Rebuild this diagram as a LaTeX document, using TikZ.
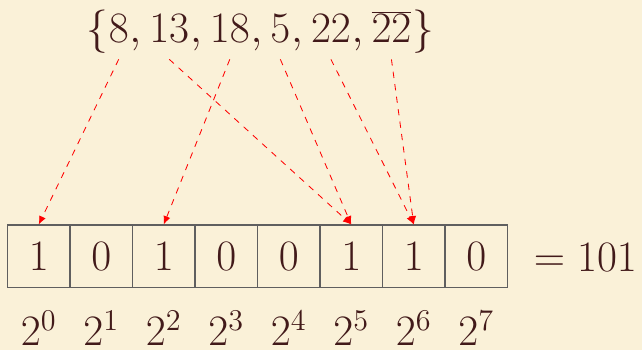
\documentclass[tikz,border=0pt]{standalone}
\usetikzlibrary{arrows.meta}
\definecolor{bgc}{RGB}{250,241,216}
\definecolor{inkc}{RGB}{66,26,26}
\definecolor{cellline}{RGB}{95,95,95}
\begin{document}
\begin{tikzpicture}[x=0.4779pt,y=-0.4779pt,
  every node/.style={text=inkc, font=\huge},
  setitem/.style={inner xsep=0pt, inner ysep=7.6pt, text depth=0pt, anchor=base west},
  cell/.style={draw=cellline, line width=0.5pt, minimum size=29.87pt, inner sep=0pt},
  pointer/.style={red, dashed, line width=0.4pt, -{Latex[length=4pt,width=3.4pt]}}]
\useasboundingbox (0,0) rectangle (642,350);
\fill[bgc] (0,0) rectangle (642,350);
% cells
\foreach \v [count=\i from 0] in {1,0,1,0,0,1,1,0}
  \node[cell] (c\i) at (38.75+62.5*\i, 256.25) {$\v$};
% set
\node[setitem] (lb) at (85.8,43) {$\{$};
\node[setitem] (n8) at (lb.base east) {$8$};
\node[setitem] (k1) at (n8.base east) {$,\,$};
\node[setitem] (n13) at (k1.base east) {$13$};
\node[setitem] (k2) at (n13.base east) {$,\,$};
\node[setitem] (n18) at (k2.base east) {$18$};
\node[setitem] (k3) at (n18.base east) {$,\,$};
\node[setitem] (n5) at (k3.base east) {$5$};
\node[setitem] (k4) at (n5.base east) {$,\,$};
\node[setitem] (n22) at (k4.base east) {$22$};
\node[setitem] (k5) at (n22.base east) {$,\,$};
\node[setitem] (n22b) at (k5.base east) {$\overline{22}$};
\node[setitem] (rb) at (n22b.base east) {$\}$};
% pointers
\draw[pointer] (n8.south) -- (c0.north);
\draw[pointer] (n13.south) -- (c5.north);
\draw[pointer] (n18.south) -- (c2.north);
\draw[pointer] (n5.south) -- (c5.north);
\draw[pointer] (n22.south) -- (c6.north);
\draw[pointer] (n22b.south) -- (c6.north);
% result
\node[anchor=base west, inner sep=0pt] (eq) at (533.5,272) {$=101$};
% powers
\foreach \i in {0,...,7}
  \node[anchor=base, inner sep=0pt] (p\i) at (38.75+62.5*\i, 346) {$2^{\i}$};
\end{tikzpicture}
\end{document}
